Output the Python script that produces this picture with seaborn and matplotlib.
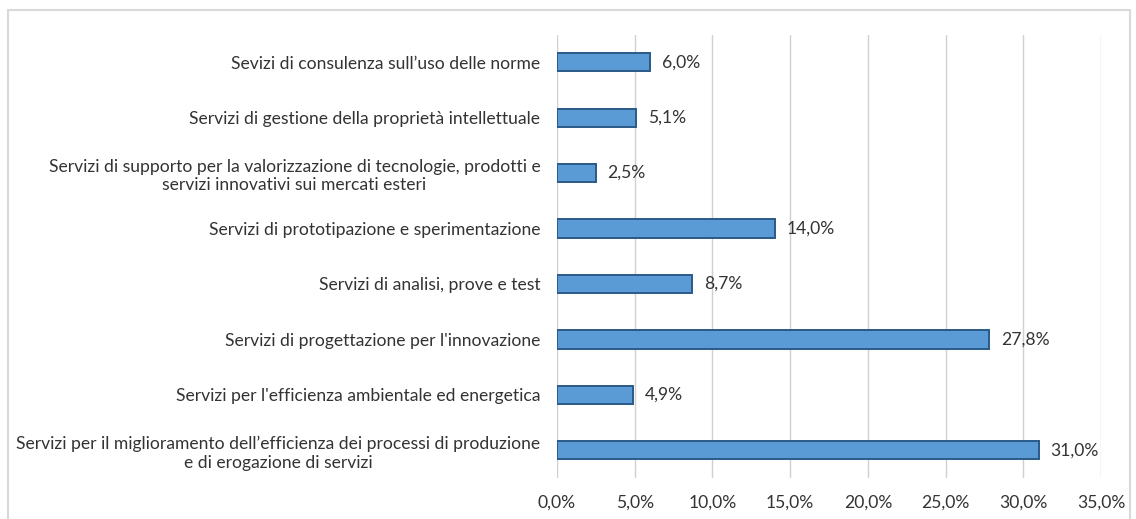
import matplotlib
matplotlib.use("Agg")
import matplotlib.pyplot as plt
import seaborn as sns
import pandas as pd
from matplotlib.lines import Line2D
from matplotlib.ticker import FuncFormatter, MultipleLocator

categories = [
    "Sevizi di consulenza sull\u2019uso delle norme",
    "Servizi di gestione della propriet\u00e0 intellettuale",
    "Servizi di supporto per la valorizzazione di tecnologie, prodotti e\nservizi innovativi sui mercati esteri",
    "Servizi di prototipazione e sperimentazione",
    "Servizi di analisi, prove e test",
    "Servizi di progettazione per l'innovazione",
    "Servizi per l'efficienza ambientale ed energetica",
    "Servizi per il miglioramento dell\u2019efficienza dei processi di produzione\ne di erogazione di servizi",
]
values = [6.0, 5.1, 2.5, 14.0, 8.7, 27.8, 4.9, 31.0]
x_ticks = [0, 5, 10, 15, 20, 25, 30, 35]

sns.set_theme(style="white")
plt.rcParams["font.family"] = ["Lato", "DejaVu Sans"]

df = pd.DataFrame({"cat": categories, "val": values})

fig = plt.figure(figsize=(11.36, 5.19), dpi=100)
ax = fig.add_axes([557 / 1136, 1 - 478 / 519, 544 / 1136, (478 - 34.5) / 519])

sns.barplot(data=df, y="cat", x="val", orient="h", ax=ax, color="#5b9bd5",
            edgecolor="#2a5a88", linewidth=1.4, width=0.33, saturation=1)

ax.set_xlim(0, 35)
ax.set_ylim(len(categories) - 0.5, -0.5)
ax.set_xticks(x_ticks)
ax.xaxis.set_major_formatter(FuncFormatter(lambda v, p: f"{v:.1f}%".replace(".", ",")))
ax.grid(axis="x", color="#d0d0d0", linewidth=1.0)
ax.set_axisbelow(True)
for s in ax.spines.values():
    s.set_visible(False)
ax.set_xlabel("")
ax.set_ylabel("")
tc = "#333333"
ax.tick_params(axis="both", length=0, labelcolor=tc, labelsize=12.6)
ax.tick_params(axis="y", pad=12)
ax.tick_params(axis="x", pad=12)
for lbl in ax.get_yticklabels():
    lbl.set_multialignment("center")

for i, v in enumerate(values):
    ax.text(v + 0.75, i, f"{v:.1f}%".replace(".", ","), va="center", ha="left",
            fontsize=12.6, color=tc)

# light frame around the chart
fc = "#d9d9d9"
W, H = 1136, 519
fig.add_artist(Line2D([8 / W, 1130 / W], [1 - 10 / H, 1 - 10 / H], color=fc, lw=1.5, transform=fig.transFigure))
fig.add_artist(Line2D([8 / W, 8 / W], [1 - 10 / H, 0], color=fc, lw=1.5, transform=fig.transFigure))
fig.add_artist(Line2D([1130 / W, 1130 / W], [1 - 10 / H, 0], color=fc, lw=1.5, transform=fig.transFigure))

fig.savefig("out.png", dpi=100)
